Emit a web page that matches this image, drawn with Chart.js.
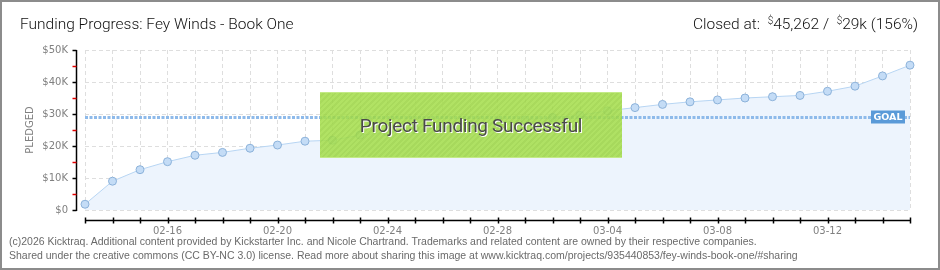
<!DOCTYPE html>
<html>
<head>
<meta charset="utf-8">
<script src="https://cdn.jsdelivr.net/npm/chart.js@4"></script>
<style>
  html, body { margin: 0; padding: 0; background: #fff; }
  #frame { position: relative; width: 940px; height: 270px; box-sizing: border-box; border: 2px solid #8c8c8c; overflow: hidden; }
  #chartBox { position: absolute; left: -2px; top: -2px; width: 940px; height: 270px; }
  .head { position: absolute; top: 13px; font-family: Roboto, sans-serif; font-weight: 300; font-size: 15.5px; color: #111; white-space: nowrap; }
  .head sup { font-size: 10px; vertical-align: 5px; }
  #title { left: 18px; }
  #closed { right: 20px; }
  #foot { position: absolute; left: 7px; top: 233px; font-family: "Liberation Sans", sans-serif; font-size: 10.5px; line-height: 13.5px; color: #6a6a6a; white-space: nowrap; }
  #success { position: absolute; left: 318px; top: 90px; width: 302px; height: 66px; box-sizing: border-box;
    background: repeating-linear-gradient(135deg, rgba(166,222,78,0.88) 0 2px, rgba(157,213,70,0.88) 2px 4px);
    border-top: 1px solid #c3ea86; border-bottom: 1px solid #c3ea86;
    font-family: Roboto, sans-serif; font-size: 19px; letter-spacing: -0.3px; color: #4a4a4a; text-shadow: 1px 1px 0 #fff;
    display: flex; align-items: center; justify-content: center; }
</style>
</head>
<body>
<div id="frame">
  <div id="chartBox"><canvas id="fundingChart"></canvas></div>
  <div class="head" id="title">Funding Progress: Fey Winds - Book One</div>
  <div class="head" id="closed">Closed at:&nbsp; <sup>$</sup>45,262 /&nbsp; <sup>$</sup>29k (156%)</div>
  <div id="success">Project Funding Successful</div>
  <div id="foot">(c)2026 Kicktraq. Additional content provided by Kickstarter Inc. and Nicole Chartrand. Trademarks and related content are owned by their respective companies.<br>Shared under the creative commons (CC BY-NC 3.0) license. Read more about sharing this image at www.kicktraq.com/projects/935440853/fey-winds-book-one/#sharing</div>
</div>
<script>
// fechas (dias de campaña) y monto acumulado
const dates = ['02-13', '02-14', '02-15', '02-16', '02-17', '02-18', '02-19', '02-20', '02-21', '02-22',
               '02-23', '02-24', '02-25', '02-26', '02-27', '02-28', '03-01', '03-02', '03-03', '03-04',
               '03-05', '03-06', '03-07', '03-08', '03-09', '03-10', '03-11', '03-12', '03-13', '03-14', '03-15'];
const pledged = [1800, 9000, 12600, 15100, 17100, 18000, 19300, 20300, 21500, 21800,
                 23400, 24300, 25100, 25800, 26600, 27400, 28100, 28900, 29600, 31000,
                 32000, 33000, 33800, 34400, 35000, 35400, 35800, 37100, 38700, 41900, 45262];
const shownDates = ['02-16', '02-20', '02-24', '02-28', '03-04', '03-08', '03-12'];
const yTickLabels = ['$0', '$10K', '$20K', '$30K', '$40K', '$50K'];
const goal = 29000;

// ejes desplazados, marcas y linea de meta
const axesPlugin = {
  id: 'axesPlugin',
  afterDatasetsDraw(chart) {
    const ctx = chart.ctx;
    const a = chart.chartArea;
    const x = chart.scales.x, y = chart.scales.y;
    ctx.save();
    // meta
    const gy = Math.round(y.getPixelForValue(goal)) + 0.5;
    ctx.strokeStyle = '#8ebaea';
    ctx.lineWidth = 3;
    ctx.setLineDash([3, 1.5]);
    ctx.beginPath(); ctx.moveTo(a.left, gy); ctx.lineTo(a.right, gy); ctx.stroke();
    ctx.setLineDash([]);
    ctx.fillStyle = '#5a9ad8';
    ctx.fillRect(a.right - 39, gy - 7, 34, 13);
    ctx.fillStyle = '#fff';
    ctx.font = 'bold 9.5px "DejaVu Sans", sans-serif';
    ctx.textAlign = 'center'; ctx.textBaseline = 'middle';
    ctx.fillText('GOAL', a.right - 22, gy);
    // eje Y
    const ax = a.left - 8.5;
    ctx.lineWidth = 1.5;
    ctx.strokeStyle = '#000';
    ctx.beginPath(); ctx.moveTo(ax, a.top); ctx.lineTo(ax, a.bottom + 1); ctx.stroke();
    for (let v = 0; v <= 50000; v += 5000) {
      const py = Math.round(y.getPixelForValue(v)) + 0.5;
      ctx.strokeStyle = v % 10000 === 0 ? '#000' : '#e00000';
      ctx.beginPath(); ctx.moveTo(ax - 4, py); ctx.lineTo(ax, py); ctx.stroke();
    }
    // eje X
    const ay = a.bottom + 10.5;
    ctx.strokeStyle = '#000';
    ctx.beginPath(); ctx.moveTo(a.left, ay); ctx.lineTo(a.right + 1, ay); ctx.stroke();
    dates.forEach((d, i) => {
      const px = Math.round(x.getPixelForValue(i)) + 0.5;
      ctx.beginPath(); ctx.moveTo(px, ay - 3); ctx.lineTo(px, ay + 3); ctx.stroke();
    });
    ctx.restore();
  }
};

const tickFont = { family: '"DejaVu Sans", sans-serif', size: 10 };

new Chart(document.getElementById('fundingChart'), {
  type: 'line',
  data: {
    labels: dates,
    datasets: [{
      data: pledged,
      borderColor: '#b7d5f3',
      borderWidth: 1,
      backgroundColor: '#edf4fd',
      fill: 'origin',
      tension: 0,
      pointRadius: 4,
      pointBackgroundColor: '#c4dcf6',
      pointBorderColor: '#8cb2da',
      pointBorderWidth: 1
    }]
  },
  options: {
    responsive: true,
    maintainAspectRatio: false,
    animation: false,
    layout: { padding: { left: 0, right: 30, top: 50, bottom: 30 } },
    plugins: { legend: { display: false }, tooltip: { enabled: false } },
    scales: {
      x: {
        type: 'category',
        offset: false,
        grid: { color: '#dedede', drawTicks: false },
        border: { display: false, dash: [4, 3] },
        ticks: {
          autoSkip: false, maxRotation: 0, padding: 15, color: '#808080', font: tickFont,
          callback: (v, i) => shownDates.includes(dates[i]) ? dates[i] : ''
        },
        afterFit: s => { s.height = 30; }
      },
      y: {
        min: 0, max: 50000,
        grid: { color: '#dedede', drawTicks: false },
        border: { display: false, dash: [4, 3] },
        ticks: {
          stepSize: 10000, padding: 17, color: '#808080', font: tickFont,
          callback: (v) => yTickLabels[v / 10000]
        },
        title: { display: true, text: 'PLEDGED', color: '#808080', font: { family: '"DejaVu Sans", sans-serif', size: 10 }, padding: { top: 24 } },
        afterFit: s => { s.width = 85; }
      }
    }
  },
  plugins: [axesPlugin]
});
</script>
</body>
</html>
